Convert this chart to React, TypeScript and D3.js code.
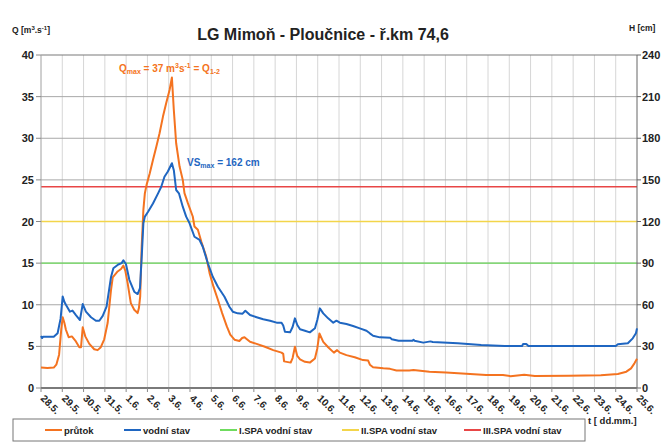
import React from "react";
import * as d3 from "d3";

// ---- data ----
const dayLabels = ["28.5.","29.5.","30.5.","31.5.","1.6.","2.6.","3.6.","4.6.","5.6.","6.6.","7.6.","8.6.","9.6.","10.6.","11.6.","12.6.","13.6.","14.6.","15.6.","16.6.","17.6.","18.6.","19.6.","20.6.","21.6.","22.6.","23.6.","24.6.","25.6."];
const qTicks = [0, 5, 10, 15, 20, 25, 30, 35, 40];
const hTicks = [0, 30, 60, 90, 120, 150, 180, 210, 240];

// time in days since 28.5. 00:00
const flowTimes = [0,0.3,0.6,0.72,0.85,0.95,1.02,1.1,1.17,1.3,1.45,1.64,1.8,1.88,1.96,2.08,2.27,2.5,2.66,2.81,2.97,3.13,3.29,3.37,3.6,3.76,3.87,3.96,4.07,4.22,4.38,4.54,4.6,4.66,4.73,4.81,4.88,4.96,5.11,5.26,5.42,5.57,5.73,5.88,6.04,6.15,6.24,6.35,6.51,6.66,6.74,6.9,7.13,7.21,7.37,7.53,7.76,7.92,8.1,8.31,8.51,8.73,8.89,9.09,9.32,9.45,9.56,9.63,9.82,10.13,10.52,10.91,11.3,11.38,11.42,11.73,11.82,11.93,12.04,12.17,12.4,12.63,12.87,12.98,13.08,13.26,13.49,13.76,13.91,14.04,14.35,14.74,15.13,15.37,15.45,15.6,16.08,16.4,16.7,17.3,17.5,18.25,19.03,19.97,20.91,21.7,22.06,22.7,23.2,24.8,26.3,27.1,27.5,27.72,27.88,28];
const flowValues = [2.45,2.4,2.45,2.8,4.0,7.0,8.5,7.8,7.0,6.1,6.2,5.6,4.9,4.9,7.3,6.2,5.3,4.65,4.55,4.9,5.85,7.8,11.8,13.3,14.0,14.3,14.7,14.1,12.6,10.2,9.4,9.0,9.6,11.0,17.0,21.4,23.4,24.4,25.8,27.4,29.0,30.6,32.6,34.2,35.8,37.3,33.4,29.4,26.6,25.0,23.4,22.2,20.6,19.4,19.0,17.6,15.8,13.8,12.2,10.6,9.0,7.4,6.4,5.8,5.65,6.0,6.1,5.95,5.55,5.3,4.95,4.55,4.25,4.1,3.2,3.05,3.6,4.95,3.85,3.45,3.15,3.05,3.55,4.75,6.55,5.55,4.9,4.25,4.55,4.25,3.95,3.7,3.35,3.3,2.8,2.5,2.36,2.3,2.1,2.1,2.15,1.95,1.85,1.7,1.56,1.56,1.42,1.6,1.45,1.47,1.52,1.68,1.96,2.36,2.96,3.5];

const stageTimes = [0,0.05,0.1,0.6,0.78,0.92,1.02,1.1,1.17,1.36,1.48,1.64,1.83,1.96,2.11,2.35,2.58,2.74,2.9,3.08,3.29,3.4,3.63,3.79,3.87,3.99,4.15,4.38,4.54,4.65,4.74,4.81,4.88,5.03,5.26,5.5,5.65,5.8,5.96,6.15,6.24,6.35,6.48,6.66,6.82,6.98,7.21,7.45,7.6,7.84,8.07,8.31,8.62,8.85,9.01,9.24,9.47,9.6,9.82,10.13,10.44,10.76,11.07,11.3,11.38,11.46,11.7,11.82,11.93,12.04,12.17,12.4,12.63,12.87,12.98,13.1,13.26,13.49,13.73,13.88,14.04,14.35,14.66,14.98,15.29,15.45,15.6,15.92,16.4,16.48,16.8,17.45,17.5,17.55,17.96,18.3,18.4,19.58,20.68,21.78,22.6,22.65,22.8,22.9,27.0,27.1,27.57,27.8,27.95,28];
const stageValues = [37.5,36,37,37,39.5,50,66,62,60,55,55.8,52.6,49,60.5,55,51,48.5,48.5,52,58.6,80,86.3,89,90,92,89.4,78,69.4,67.7,72,97,118.7,123.5,127,133,140.3,145,152.3,156,162,157,142.7,140.3,130.7,123.5,118.7,109,106.7,101.8,89.9,80.2,73,65.8,58.6,55,53.8,53.6,55.7,52.6,51,49.5,48.5,47.1,47,45,40.6,40.1,44,50.2,45.4,42.3,41.3,40.1,43,49,57.4,53.8,50.2,47.1,48.5,47.1,46.1,44.7,43,41.3,39.4,37.7,36.5,36.3,35.1,34.1,34.1,34.8,34.1,32.7,33.6,33.2,32.2,31,30.3,30.3,31.7,31.7,30.3,30.3,31.5,32.2,35.8,39.4,43];

const spaNames = ["I.SPA vodní stav", "II.SPA vodní stav", "III.SPA vodní stav"];
const spaLevels = [90, 120, 145];
const spaColors = ["#6fdc5e", "#f3d54a", "#e84646"];

const ORANGE = "#f47320";
const BLUE = "#1f66c1";
const FONT = "'Liberation Sans', Arial, sans-serif";

export default function App() {
  const left = 41, right = 637, top = 55, bottom = 388;
  const x = d3.scaleLinear().domain([0, dayLabels.length - 1]).range([left, right]);
  const yQ = d3.scaleLinear().domain([0, 40]).range([bottom, top]);
  const yH = d3.scaleLinear().domain([0, 240]).range([bottom, top]);

  const flowPts: [number, number][] = flowTimes.map((t, i) => [t, flowValues[i]]);
  const stagePts: [number, number][] = stageTimes.map((t, i) => [t, stageValues[i]]);
  const flowLine = d3.line<[number, number]>().x(d => x(d[0])).y(d => yQ(d[1]));
  const stageLine = d3.line<[number, number]>().x(d => x(d[0])).y(d => yH(d[1]));

  const legendItems = [
    { name: "průtok", color: ORANGE, lx: 45 },
    { name: "vodní stav", color: BLUE, lx: 124 },
    { name: spaNames[0], color: spaColors[0], lx: 220 },
    { name: spaNames[1], color: spaColors[1], lx: 342 },
    { name: spaNames[2], color: spaColors[2], lx: 464 },
  ];

  return (
    <svg width={670} height={443} style={{ position: "absolute", left: 0, top: 0, background: "#fff" }} fontFamily={FONT}>
      <rect x={0} y={0} width={670} height={443} fill="#fff" />
      {/* vertical grid */}
      {dayLabels.map((_, i) => (i > 0 && i < dayLabels.length - 1) ? (
        <line key={"vg" + i} x1={x(i)} x2={x(i)} y1={top} y2={bottom} stroke="#d6d6d6" strokeWidth={1} />
      ) : null)}
      {/* horizontal grid */}
      {qTicks.map(v => (v > 0 && v < 40) ? (
        <line key={"hg" + v} x1={left} x2={right} y1={yQ(v)} y2={yQ(v)} stroke="#a8a8a8" strokeWidth={1} />
      ) : null)}
      <line x1={left} x2={right} y1={yQ(40)} y2={yQ(40)} stroke="#7a7a7a" strokeWidth={1.2} />
      {/* SPA lines */}
      {spaLevels.map((v, i) => (
        <line key={"spa" + i} x1={left} x2={right} y1={yH(v)} y2={yH(v)} stroke={spaColors[i]} strokeWidth={1.4} />
      ))}
      {/* axes */}
      <line x1={left} x2={left} y1={top} y2={bottom} stroke="#a0a0a0" strokeWidth={1} />
      <line x1={right} x2={right} y1={top} y2={bottom} stroke="#666" strokeWidth={1} />
      <line x1={left} x2={right} y1={bottom} y2={bottom} stroke="#7a7a7a" strokeWidth={2} />
      {/* left ticks */}
      {qTicks.map(v => (
        <g key={"lt" + v}>
          <line x1={left - 5} x2={left} y1={yQ(v)} y2={yQ(v)} stroke="#888" />
          <text x={34} y={yQ(v) + 4} textAnchor="end" fontSize={11} fontWeight="bold" fill="#222">{v}</text>
        </g>
      ))}
      {hTicks.map(v => (
        <g key={"rt" + v}>
          <line x1={right} x2={right + 4} y1={yH(v)} y2={yH(v)} stroke="#666" />
          <text x={642} y={yH(v) + 4} textAnchor="start" fontSize={11} fontWeight="bold" fill="#222">{v}</text>
        </g>
      ))}
      {/* x labels */}
      {dayLabels.map((d, i) => (
        <g key={"xl" + i}>
          <line x1={x(i)} x2={x(i)} y1={bottom} y2={bottom + 4} stroke="#888" />
          <text transform={`translate(${x(i) - 1},${bottom + 11}) rotate(45)`} fontSize={10} fontWeight="bold" fill="#222">{d}</text>
        </g>
      ))}
      {/* series */}
      <path d={flowLine(flowPts) || ""} fill="none" stroke={ORANGE} strokeWidth={2} strokeLinejoin="round" />
      <path d={stageLine(stagePts) || ""} fill="none" stroke={BLUE} strokeWidth={2} strokeLinejoin="round" />
      {/* annotations */}
      <text x={119} y={72} fontSize={10} fontWeight="bold" fill={ORANGE}>
        Q<tspan fontSize={7} dy={2}>max</tspan><tspan dy={-2}> = 37 m</tspan><tspan fontSize={7} dy={-4}>3</tspan><tspan dy={4}>s</tspan><tspan fontSize={7} dy={-4}>-1</tspan><tspan dy={4}> = Q</tspan><tspan fontSize={7} dy={2}>1-2</tspan>
      </text>
      <text x={187} y={166} fontSize={10} fontWeight="bold" fill={BLUE}>
        VS<tspan fontSize={7} dy={2}>max</tspan><tspan dy={-2}> = 162 cm</tspan>
      </text>
      {/* titles */}
      <text x={323} y={40} textAnchor="middle" fontSize={16} fontWeight="bold" fill="#222">LG Mimoň - Ploučnice - ř.km 74,6</text>
      <text x={12} y={33} fontSize={8.5} fontWeight="bold" fill="#222">Q [m<tspan fontSize={6} dy={-3}>3</tspan><tspan dy={3}>.s</tspan><tspan fontSize={6} dy={-3}>-1</tspan><tspan dy={3}>]</tspan></text>
      <text x={629} y={31} fontSize={8.5} fontWeight="bold" fill="#222">H [cm]</text>
      <text x={588} y={424} fontSize={9.5} fontWeight="bold" fill="#222">t [ dd.mm.]</text>
      {/* legend */}
      <rect x={13} y={419} width={572} height={22} fill="#fff" stroke="#777" strokeWidth={1} />
      {legendItems.map((it, i) => (
        <g key={"lg" + i}>
          <line x1={it.lx} x2={it.lx + 17} y1={430} y2={430} stroke={it.color} strokeWidth={2} />
          <text x={it.lx + 19} y={433.5} fontSize={9.5} fontWeight="bold" fill="#222">{it.name}</text>
        </g>
      ))}
    </svg>
  );
}
